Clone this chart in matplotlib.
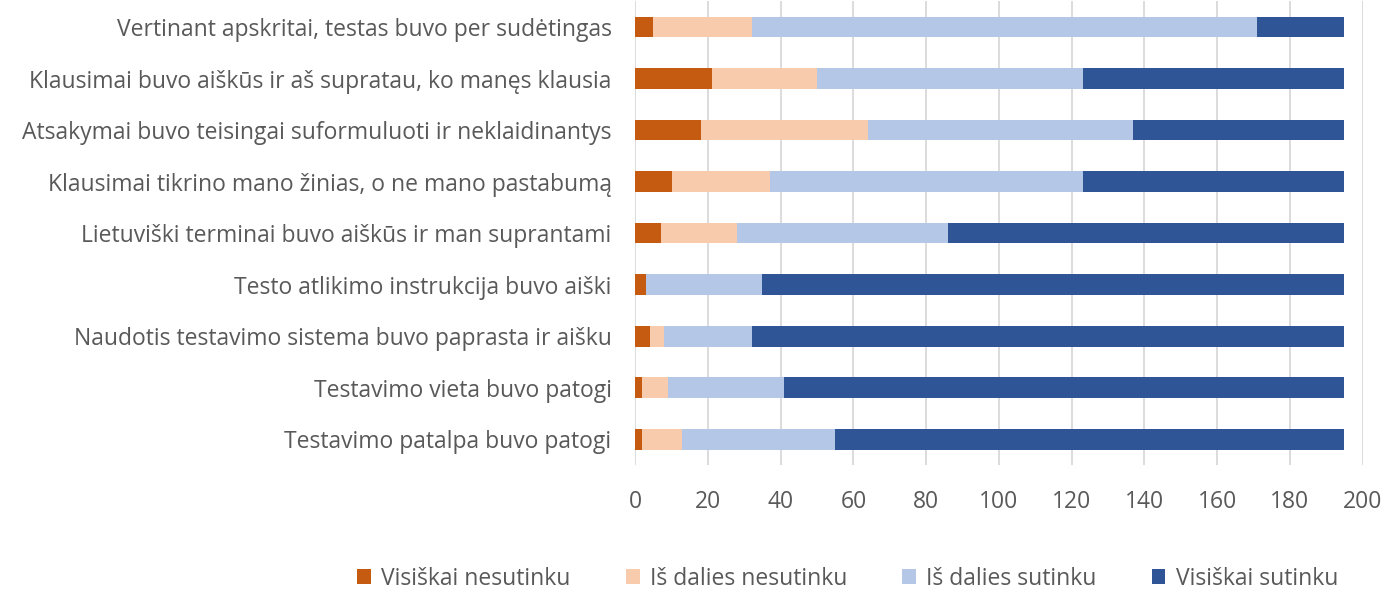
import matplotlib.pyplot as plt
import numpy as np

# statements, top to bottom as in the chart
statements = [
    "Vertinant apskritai, testas buvo per sudėtingas",
    "Klausimai buvo aiškūs ir aš supratau, ko manęs klausia",
    "Atsakymai buvo teisingai suformuluoti ir neklaidinantys",
    "Klausimai tikrino mano žinias, o ne mano pastabumą",
    "Lietuviški terminai buvo aiškūs ir man suprantami",
    "Testo atlikimo instrukcija buvo aiški",
    "Naudotis testavimo sistema buvo paprasta ir aišku",
    "Testavimo vieta buvo patogi",
    "Testavimo patalpa buvo patogi",
]

series_names = ["Visiškai nesutinku", "Iš dalies nesutinku", "Iš dalies sutinku", "Visiškai sutinku"]
visiskai_nesutinku = [5, 21, 18, 10, 7, 3, 4, 2, 2]
is_dalies_nesutinku = [27, 29, 46, 27, 21, 0, 4, 7, 11]
is_dalies_sutinku = [139, 73, 73, 86, 58, 32, 24, 32, 42]
visiskai_sutinku = [24, 72, 58, 72, 109, 160, 163, 154, 140]

colors = ["#C55A11", "#F8CBAD", "#B4C7E7", "#2F5597"]
text_color = "#595959"

plt.rcParams['font.family'] = ['Open Sans', 'DejaVu Sans']

fig = plt.figure(figsize=(13.99, 5.94), dpi=100)
ax = fig.add_axes([0.454, 0.217, 0.52, 0.781])

y = np.arange(len(statements))
left = np.zeros(len(statements))
for name, vals, c in zip(series_names,
                         [visiskai_nesutinku, is_dalies_nesutinku, is_dalies_sutinku, visiskai_sutinku],
                         colors):
    ax.barh(y, vals, left=left, height=0.4, color=c, label=name, zorder=3)
    left += np.array(vals)

ax.set_ylim(len(statements) - 0.5, -0.5)
ax.set_xlim(0, 200)
ax.set_xticks(np.arange(0, 201, 20))
ax.set_yticks(y)
ax.set_yticklabels(statements)
ax.grid(axis='x', color='#D9D9D9', linewidth=1.3, zorder=0)
for s in ax.spines.values():
    s.set_visible(False)
ax.tick_params(axis='both', length=0, labelsize=16.5, colors=text_color)
ax.tick_params(axis='x', pad=18)
ax.tick_params(axis='y', pad=17)

handles, labels = ax.get_legend_handles_labels()
fig.legend(handles, labels, loc='center', ncol=4, frameon=False,
           bbox_to_anchor=(0.606, 0.026), fontsize=16.5, labelcolor=text_color,
           handlelength=0.6, handleheight=0.6, columnspacing=2.4, handletextpad=0.45)

fig.savefig("out.png", dpi=100)
